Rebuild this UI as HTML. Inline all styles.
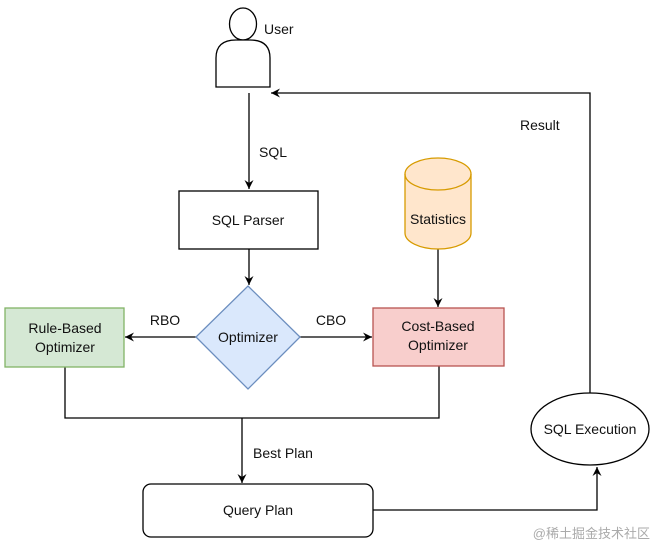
<!DOCTYPE html>
<html><head><style>body{margin:0;background:#fff}svg{display:block}text{font-family:"Liberation Sans",Arial,sans-serif;font-size:14px;fill:#111}</style></head>
<body>
<svg width="652" height="546" viewBox="0 0 652 546" xmlns="http://www.w3.org/2000/svg">
<defs><marker id="a" markerWidth="10" markerHeight="10" refX="9" refY="5" orient="auto" markerUnits="userSpaceOnUse"><path d="M0,0.5 L9,5 L0,9.5 L3,5 Z" fill="#000"/></marker></defs>
<g fill="none" stroke="#000" stroke-width="1.3">
<ellipse cx="243" cy="24" rx="13.5" ry="16" fill="#fff"/>
<path d="M216,87 L216,58 Q216,40 236,40 L250,40 Q270,40 270,58 L270,87 Z" fill="#fff"/>
<line x1="249" y1="93" x2="249" y2="189" marker-end="url(#a)"/>
<polyline points="590,393 590,93 271,93" marker-end="url(#a)"/>
<rect x="179" y="191" width="139" height="58" fill="#fff"/>
<line x1="249" y1="249" x2="249" y2="285" marker-end="url(#a)"/>
<line x1="438" y1="249" x2="438" y2="307" marker-end="url(#a)"/>
<line x1="196" y1="337" x2="125" y2="337" marker-end="url(#a)"/>
<line x1="300" y1="337" x2="372" y2="337" marker-end="url(#a)"/>
<polyline points="65,367 65,418 439,418 439,366"/>
<line x1="242" y1="418" x2="242" y2="483" marker-end="url(#a)"/>
<polyline points="373,510 597,510 597,467" marker-end="url(#a)"/>
</g>
<path d="M405,174 A33,16 0 0 1 471,174 L471,233 A33,16 0 0 1 405,233 Z" fill="#ffe6cc" stroke="#d79b00" stroke-width="1.3"/>
<path d="M405,174 A33,16 0 0 0 471,174" fill="none" stroke="#d79b00" stroke-width="1.3"/>
<polygon points="248,286 300,337 248,389 196,337" fill="#dae8fc" stroke="#6c8ebf" stroke-width="1.3"/>
<rect x="5" y="308" width="119" height="59" fill="#d5e8d4" stroke="#82b366" stroke-width="1.3"/>
<rect x="373" y="308" width="131" height="58" fill="#f8cecc" stroke="#b85450" stroke-width="1.3"/>
<rect x="143" y="484" width="230" height="53" rx="8" fill="#fff" stroke="#000" stroke-width="1.3"/>
<ellipse cx="590" cy="429" rx="59" ry="36" fill="#fff" stroke="#000" stroke-width="1.3"/>
<text x="264" y="34">User</text>
<text x="520" y="130">Result</text>
<text x="259" y="157">SQL</text>
<text x="248" y="225" text-anchor="middle">SQL Parser</text>
<text x="438" y="224" text-anchor="middle">Statistics</text>
<text x="248" y="342" text-anchor="middle">Optimizer</text>
<text x="65" y="333" text-anchor="middle">Rule-Based</text>
<text x="65" y="352" text-anchor="middle">Optimizer</text>
<text x="438" y="331" text-anchor="middle">Cost-Based</text>
<text x="438" y="350" text-anchor="middle">Optimizer</text>
<text x="165" y="325" text-anchor="middle">RBO</text>
<text x="331" y="325" text-anchor="middle">CBO</text>
<text x="253" y="458">Best Plan</text>
<text x="258" y="515" text-anchor="middle">Query Plan</text>
<text x="590" y="434" text-anchor="middle">SQL Execution</text>
<text x="650" y="538" text-anchor="end" style="font-size:13px;fill:#aaa;font-family:'Liberation Sans','Noto Sans CJK SC',sans-serif">@稀土掘金技术社区</text>
</svg>
</body></html>
